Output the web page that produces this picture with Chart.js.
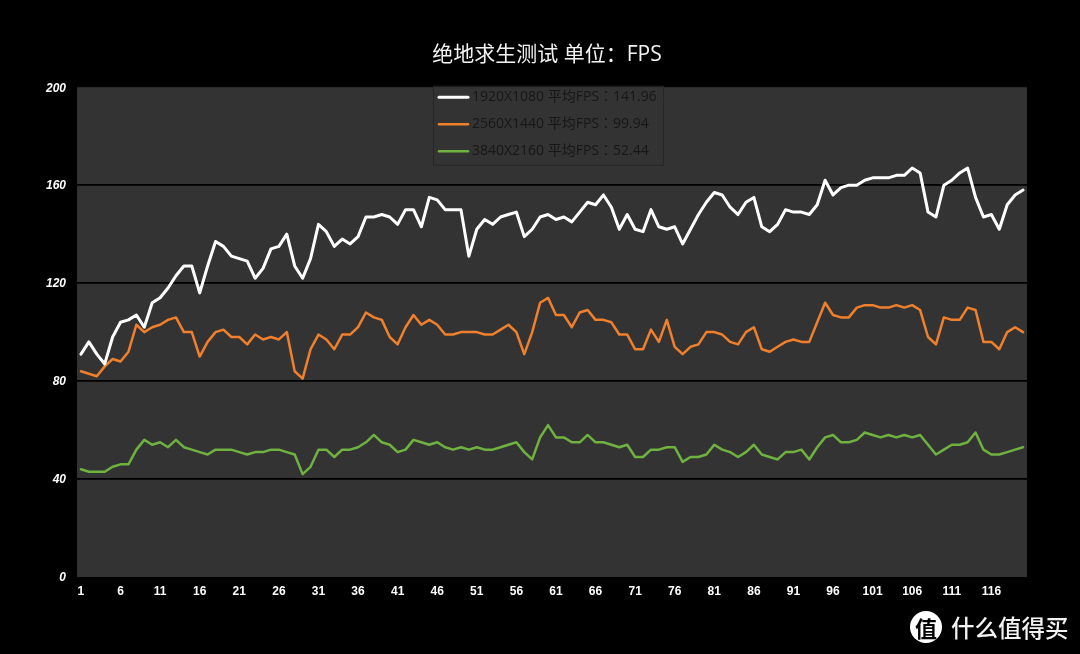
<!DOCTYPE html>
<html lang="zh">
<head>
<meta charset="utf-8">
<title>绝地求生测试</title>
<style>
    html, body { margin: 0; padding: 0; background: #000; overflow: hidden; }
    #wrap { position: relative; width: 1080px; height: 654px; }
    canvas { display: block; }
    .logo {
        position: absolute; left: 910px; top: 611px; width: 32px; height: 32px; border-radius: 50%;
        background: #fff; color: #000; text-align: center; line-height: 32px;
        font: bold 22px/32px "Noto Sans CJK SC";
    }
    .brand {
        position: absolute; left: 951px; top: 609px; color: #f2f2f2;
        font: 500 23.5px/36px "Noto Sans CJK SC"; white-space: nowrap;
    }
</style>
</head>
<body>
<div id="wrap">
    <canvas id="fpsChart" width="1080" height="654"></canvas>
    <div class="logo">值</div>
    <div class="brand">什么值得买</div>
</div>
<script src="https://cdn.jsdelivr.net/npm/chart.js@4"></script>
<script>
const titleText = '绝地求生测试 单位：FPS';
const yTicks = [0, 40, 80, 120, 160, 200];

const fps1080 = [
    91, 96, 91, 87, 98, 104, 105, 107, 102, 112,
    114, 118, 123, 127, 127, 116, 127, 137, 135, 131,
    130, 129, 122, 126, 134, 135, 140, 127, 122, 130,
    144, 141, 135, 138, 136, 139, 147, 147, 148, 147,
    144, 150, 150, 143, 155, 154, 150, 150, 150, 131,
    142, 146, 144, 147, 148, 149, 139, 142, 147, 148,
    146, 147, 145, 149, 153, 152, 156, 151, 142, 148,
    142, 141, 150, 143, 142, 143, 136, 142, 148, 153,
    157, 156, 151, 148, 153, 155, 143, 141, 144, 150,
    149, 149, 148, 152, 162, 156, 159, 160, 160, 162,
    163, 163, 163, 164, 164, 167, 165, 149, 147, 160,
    162, 165, 167, 155, 147, 148, 142, 152, 156, 158
];
const fps1440 = [
    84, 83, 82, 86, 89, 88, 92, 103, 100, 102,
    103, 105, 106, 100, 100, 90, 96, 100, 101, 98,
    98, 95, 99, 97, 98, 97, 100, 84, 81, 93,
    99, 97, 93, 99, 99, 102, 108, 106, 105, 98,
    95, 102, 107, 103, 105, 103, 99, 99, 100, 100,
    100, 99, 99, 101, 103, 100, 91, 100, 112, 114,
    107, 107, 102, 108, 109, 105, 105, 104, 99, 99,
    93, 93, 101, 96, 105, 94, 91, 94, 95, 100,
    100, 99, 96, 95, 100, 102, 93, 92, 94, 96,
    97, 96, 96, 104, 112, 107, 106, 106, 110, 111,
    111, 110, 110, 111, 110, 111, 109, 98, 95, 106,
    105, 105, 110, 109, 96, 96, 93, 100, 102, 100
];
const fps2160 = [
    44, 43, 43, 43, 45, 46, 46, 52, 56, 54,
    55, 53, 56, 53, 52, 51, 50, 52, 52, 52,
    51, 50, 51, 51, 52, 52, 51, 50, 42, 45,
    52, 52, 49, 52, 52, 53, 55, 58, 55, 54,
    51, 52, 56, 55, 54, 55, 53, 52, 53, 52,
    53, 52, 52, 53, 54, 55, 51, 48, 57, 62,
    57, 57, 55, 55, 58, 55, 55, 54, 53, 54,
    49, 49, 52, 52, 53, 53, 47, 49, 49, 50,
    54, 52, 51, 49, 51, 54, 50, 49, 48, 51,
    51, 52, 48, 53, 57, 58, 55, 55, 56, 59,
    58, 57, 58, 57, 58, 57, 58, 54, 50, 52,
    54, 54, 55, 59, 52, 50, 50, 51, 52, 53
];
const categories = fps1080.map((v, i) => String(i + 1));

const tickFont = { family: '"Liberation Sans", Arial, sans-serif', size: 12, weight: 'bold' };
// TC 字体的全角冒号居中，和原图一样
const textFont = '"Open Sans", "Noto Sans CJK TC", sans-serif';

// 绘图区底色
const plotBackground = {
    id: 'plotBackground',
    beforeDraw(chart) {
        const { ctx, chartArea } = chart;
        ctx.save();
        ctx.fillStyle = '#333333';
        ctx.fillRect(chartArea.left, chartArea.top, chartArea.width, chartArea.height);
        ctx.restore();
    },
    afterLayout(chart) {
        // 标题在原图里略偏右
        chart.titleBlock.left = 67;
    }
};

// 图例压在绘图区顶部，文字是深色的
const insideLegend = {
    id: 'insideLegend',
    afterDatasetsDraw(chart) {
        const { ctx, chartArea } = chart;
        const top = chartArea.top;
        ctx.save();
        ctx.fillStyle = '#333333';
        ctx.strokeStyle = '#262626';
        ctx.lineWidth = 1;
        ctx.fillRect(433, top, 230, 78);
        ctx.strokeRect(433.5, top - 1, 230, 79);
        ctx.font = '14px ' + textFont;
        ctx.textBaseline = 'middle';
        chart.data.datasets.forEach((ds, i) => {
            const y = top + 10 + i * 27;
            ctx.strokeStyle = ds.borderColor;
            ctx.lineWidth = ds.borderWidth;
            ctx.lineCap = 'round';
            ctx.beginPath();
            ctx.moveTo(439, y);
            ctx.lineTo(468, y);
            ctx.stroke();
            ctx.fillStyle = '#171717';
            ctx.fillText(ds.label, 472, y);
        });
        ctx.restore();
    }
};

new Chart(document.getElementById('fpsChart'), {
    type: 'line',
    data: {
        labels: categories,
        datasets: [{
            label: '1920X1080 平均FPS：141.96',
            data: fps1080,
            borderColor: '#ffffff',
            borderWidth: 3
        }, {
            label: '2560X1440 平均FPS：99.94',
            data: fps1440,
            borderColor: '#f0802c',
            borderWidth: 2.5
        }, {
            label: '3840X2160 平均FPS：52.44',
            data: fps2160,
            borderColor: '#6fb240',
            borderWidth: 2.5
        }]
    },
    options: {
        responsive: false,
        animation: false,
        layout: { padding: { right: 53 } },
        elements: {
            point: { radius: 0 },
            line: { tension: 0, borderJoinStyle: 'round', borderCapStyle: 'round' }
        },
        plugins: {
            legend: { display: false },
            tooltip: { enabled: false },
            title: {
                display: true,
                text: titleText,
                color: '#f2f2f2',
                font: { family: textFont, size: 21, weight: 'normal', lineHeight: 1.2 },
                padding: { top: 42, bottom: 20 }
            }
        },
        scales: {
            x: {
                offset: true,
                afterFit(scale) { scale.height = 77; },
                grid: { display: false, drawTicks: false },
                border: { display: false },
                ticks: {
                    color: '#ffffff',
                    font: tickFont,
                    padding: 7,
                    autoSkip: false,
                    maxRotation: 0,
                    callback(value, index) {
                        return index % 5 === 0 ? categories[index] : '';
                    }
                }
            },
            y: {
                min: yTicks[0],
                max: yTicks[yTicks.length - 1],
                afterFit(scale) { scale.width = 77; },
                afterBuildTicks(scale) {
                    scale.ticks = yTicks.map(v => ({ value: v }));
                },
                grid: {
                    drawTicks: false,
                    lineWidth: 1.8,
                    color(c) {
                        return c.tick.value === 0 || c.tick.value === 200 ? 'transparent' : '#000000';
                    }
                },
                border: { display: false },
                ticks: {
                    color: '#ffffff',
                    font: { ...tickFont, style: 'italic' },
                    padding: 11,
                    labelOffset: 1
                }
            }
        }
    },
    plugins: [plotBackground, insideLegend]
});
</script>
</body>
</html>
